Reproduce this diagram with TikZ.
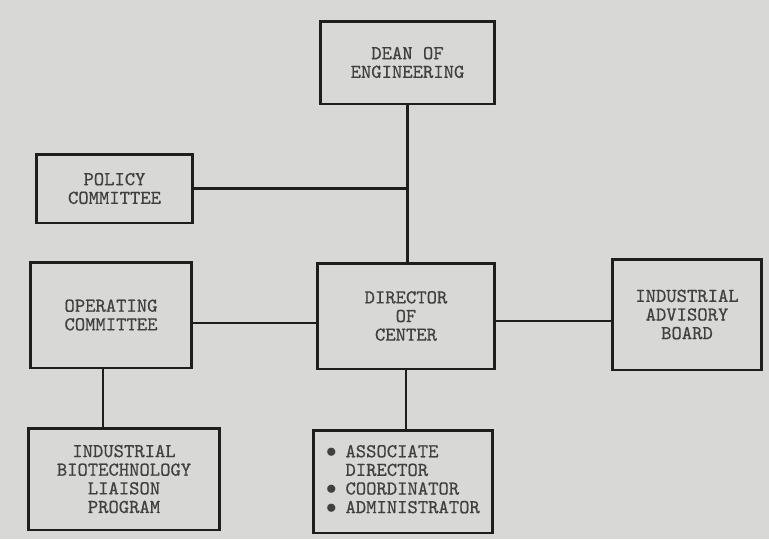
\documentclass[tikz,border=0pt]{standalone}
\usepackage{fontspec}
\newfontfamily\typewriter{lmmono10-regular.otf}[FakeBold=0.6]
\usetikzlibrary{calc}
\definecolor{paper}{RGB}{216,216,214}
\definecolor{ink}{RGB}{30,30,30}
\newcommand{\blob}{{\large$\bullet$}}

\begin{document}
\begin{tikzpicture}[x=0.02cm,y=-0.02cm,
    unit/.style={draw=ink,line width=1.7pt,inner sep=2pt,align=center,text=ink!85,
        font=\typewriter\fontsize{11.2}{10.6}\selectfont},
    link/.style={draw=ink,line width=1.4pt}]
            \fill[paper] (0,0) rectangle (769,539);
            \useasboundingbox (0,0) rectangle (769,539);

            \node[unit,minimum width=3.5cm,minimum height=1.66cm] (dean) at (407.5,62.5) {DEAN OF\\ENGINEERING};
            \node[unit,minimum width=3.14cm,minimum height=1.38cm] (policy) at (114.5,188.5) {POLICY\\COMMITTEE};
            \node[unit,minimum width=3.24cm,minimum height=2.12cm] (operating) at (111,315) {OPERATING\\COMMITTEE};
            \node[unit,minimum width=3.56cm,minimum height=2.12cm] (director) at (406,316) {DIRECTOR\\OF\\CENTER};
            \node[unit,minimum width=3cm,minimum height=2.22cm] (advisory) at (687,314.5) {INDUSTRIAL\\ADVISORY\\BOARD};
            \node[unit,minimum width=3.84cm,minimum height=2.04cm] (liaison) at (124,479) {INDUSTRIAL\\BIOTECHNOLOGY\\LIAISON\\PROGRAM};
            \node[unit,minimum width=3.6cm,minimum height=2.06cm] (staff) at (403,481.5)
                {\begin{tabular}{@{}c@{\hspace{5pt}}l@{}}
                  \blob & ASSOCIATE\\ & DIRECTOR\\ \blob & COORDINATOR\\ \blob & ADMINISTRATOR
                 \end{tabular}};

            \coordinate (spine) at (dean.south |- policy.east);
            \coordinate (drop) at ($ (operating.south) + (-8,0) $);
            \draw[link] (dean.south) -- (dean.south |- director.north);
            \draw[link] (policy.east) -- (spine);
            \draw[link] ([yshift=-0.16cm]operating.east) -- ([yshift=-0.16cm]operating.east -| director.west);
            \draw[link] ([yshift=-0.1cm]director.east) -- ([yshift=-0.1cm]director.east -| advisory.west);
            \draw[link] (drop) -- (drop |- liaison.north);
            \draw[link] (staff.north -| director.south) -- (director.south);
        \end{tikzpicture}
\end{document}
